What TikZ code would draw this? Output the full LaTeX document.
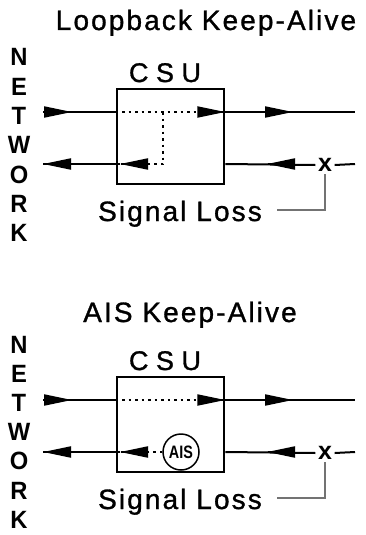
\documentclass[tikz,border=0pt]{standalone}
\usepackage{fontspec}
\setmainfont{Liberation Sans}
\newfontfamily\spacedfont[LetterSpace=7.5,FakeBold=1.1]{Liberation Sans}
\newfontfamily\plainfont[FakeBold=1.1]{Liberation Sans}
\newfontfamily\boldfont{Liberation Sans Bold}
\usetikzlibrary{arrows.meta}
\begin{document}
\begin{tikzpicture}[x=1pt,y=-1pt,
  sig/.style={line width=2pt},
  dotsig/.style={line width=2pt, dash pattern=on 2.5pt off 4pt},
  csubox/.style={draw, line width=2.6pt, minimum width=107pt, minimum height=95pt, inner sep=0pt},
  head/.style={-{Triangle[length=28pt,width=11pt]}, line width=2pt},
  graylink/.style={draw=black!55, line width=1.2pt},
  ttl/.style={font=\spacedfont\fontsize{28}{28}\selectfont, inner sep=0pt, anchor=base},
  csul/.style={font=\plainfont\fontsize{27}{27}\selectfont, inner sep=0pt, anchor=base},
  netl/.style={font=\boldfont\fontsize{25}{25}\selectfont, inner sep=0pt, anchor=base},
  xmark/.style={font=\boldfont\fontsize{25}{25}\selectfont, inner sep=2.5pt},
  aiscirc/.style={draw, circle, line width=1.5pt, minimum size=36pt, inner sep=0pt, fill=white,
    font=\boldfont\fontsize{18}{18}\selectfont}
]
\useasboundingbox (0,0) rectangle (365,535);

% ---------- Panel 1: Loopback ----------
\node[ttl] (title1) at (206,30) {Loopback Keep-Alive};
\node[csul] (csu1) at (165,82) {C S U};
\node[csubox] (box1) at (170.5,136.5) {};
\node[ttl] (sl1) at (180,221) {Signal Loss};
\node[netl] (n1) at (19,66) {\scalebox{0.95}[1]{N}};
\node[netl] (e1) at (19,95.3) {\scalebox{0.95}[1]{E}};
\node[netl] (t1) at (19,124.6) {\scalebox{0.95}[1]{T}};
\node[netl] (w1) at (19,153.9) {\scalebox{0.95}[1]{W}};
\node[netl] (o1) at (19,183.2) {\scalebox{0.95}[1]{O}};
\node[netl] (r1) at (19,212.5) {\scalebox{0.95}[1]{R}};
\node[netl] (k1) at (19,241.8) {\scalebox{0.95}[1]{K}};
\node[xmark] (x1) at (325,165) {x};

\coordinate (a1) at (43,112);
\coordinate (b1) at (355,112);
\coordinate (c1) at (43,164);
\coordinate (d1) at (355,164);
\coordinate (dt1) at (196,112);
\coordinate (lp1) at (163,112);
\coordinate (lq1) at (163,164);
\coordinate (lr1) at (148,164);
\coordinate (li1) at (120,164);
\coordinate (g1) at (277,210);

\draw[sig] (a1) -- (box1.west |- a1);
\draw[dotsig] (box1.west |- a1) -- (dt1);
\draw[head] ([xshift=-1pt]box1.east |- a1) -- (box1.east |- a1);
\draw[sig] (box1.east |- a1) -- (b1);
\draw[head] (71,112) -- (72,112);
\draw[head] (292,112) -- (293,112);

\draw[sig] (c1) -- (li1);
\draw[head] (44,164) -- (c1);
\draw[head] (121,164) -- (li1);
\draw[dotsig] (lp1) -- (lq1) -- (lr1);
\draw[sig] (box1.east |- c1) -- (x1.west);
\draw[head] (268,164) -- (267,164);
\draw[sig] (x1.east) -- (d1);
\draw[graylink] (x1.south) |- (g1);

% ---------- Panel 2: AIS ----------
\begin{scope}[shift={(0,288)}]
\node[ttl] (title2) at (190,34) {AIS Keep-Alive};
\node[csul] (csu2) at (165,82) {C S U};
\node[csubox] (box2) at (170.5,136.5) {};
\node[ttl] (sl2) at (180,221) {Signal Loss};
\node[netl] (n2) at (19,65) {\scalebox{0.95}[1]{N}};
\node[netl] (e2) at (19,94.2) {\scalebox{0.95}[1]{E}};
\node[netl] (t2) at (19,123.4) {\scalebox{0.95}[1]{T}};
\node[netl] (w2) at (19,152.6) {\scalebox{0.95}[1]{W}};
\node[netl] (o2) at (19,181.8) {\scalebox{0.95}[1]{O}};
\node[netl] (r2) at (19,211) {\scalebox{0.95}[1]{R}};
\node[netl] (k2) at (19,240.2) {\scalebox{0.95}[1]{K}};
\node[xmark] (x2) at (325,165) {x};

\coordinate (a2) at (43,112);
\coordinate (b2) at (355,112);
\coordinate (c2) at (43,164);
\coordinate (d2) at (355,164);
\coordinate (dt2) at (196,112);
\coordinate (lr2) at (148,164);
\coordinate (li2) at (120,164);
\coordinate (g2) at (277,210);

\draw[sig] (a2) -- (box2.west |- a2);
\draw[dotsig] (box2.west |- a2) -- (dt2);
\draw[head] ([xshift=-1pt]box2.east |- a2) -- (box2.east |- a2);
\draw[sig] (box2.east |- a2) -- (b2);
\draw[head] (71,112) -- (72,112);
\draw[head] (292,112) -- (293,112);

\node[aiscirc] (ais) at (181,164) {\scalebox{0.8}[1]{AIS}};
\draw[sig] (c2) -- (li2);
\draw[head] (44,164) -- (c2);
\draw[head] (121,164) -- (li2);
\draw[dotsig] (ais.west) -- (lr2);
\draw[sig] (box2.east |- c2) -- (x2.west);
\draw[head] (268,164) -- (267,164);
\draw[sig] (x2.east) -- (d2);
\draw[graylink] (x2.south) |- (g2);
\end{scope}
\end{tikzpicture}
\end{document}
